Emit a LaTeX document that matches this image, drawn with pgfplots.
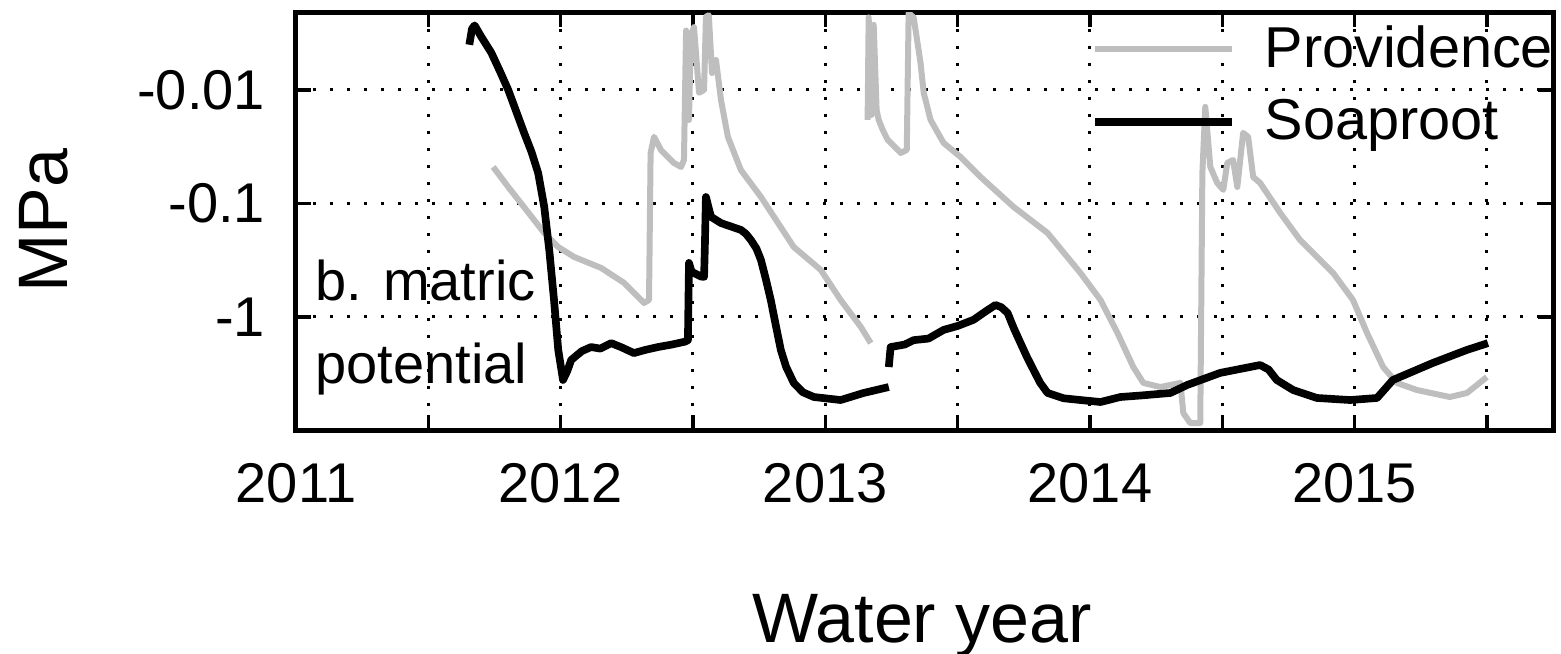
\documentclass[border=0pt]{standalone}
\usepackage{fontspec}
\setmainfont{Liberation Sans}
\usepackage{pgfplots}
\pgfplotsset{compat=1.18}
\definecolor{provgray}{RGB}{190,190,190}
\begin{document}
\begin{tikzpicture}
\path[use as bounding box] (-88.8pt,-66.9pt) rectangle (379.5pt,129pt);
\begin{axis}[
  at={(0pt,0pt)}, anchor=south west,
  scale only axis, width=377.1pt, height=125.4pt,
  xmin=2011, xmax=2015.75,
  ymode=log, y dir=reverse, ymin=0.00206, ymax=9.9,
  xtick={2011,2012,2013,2014,2015},
  xticklabels={2011,2012,2013,2014,2015},
  minor xtick={2011.5,2012.5,2013.5,2014.5,2015.5},
  ytick={0.01,0.1,1},
  yticklabels={{-0.01},{-0.1},{-1}},
  yminorticks=false,
  xmajorgrids, xminorgrids, ymajorgrids,
  major grid style={black, line width=0.9pt, dash pattern=on 0.9pt off 4.2pt},
  minor grid style={black, line width=0.9pt, dash pattern=on 0.9pt off 4.2pt},
  axis line style={line width=1.5pt},
  tick style={black, line width=1pt},
  major tick length=4.5pt, minor tick length=4.5pt,
  tick align=inside,
  /pgf/number format/assume math mode=true,
  ticklabel style={font=\fontsize{16.8}{20}\selectfont},
  xticklabel style={yshift=-6.4pt},
  yticklabel style={xshift=-5.8pt},
  xlabel={Water year}, ylabel={MPa},
  label style={font=\fontsize{21}{25}\selectfont},
  xlabel style={at={(axis description cs:0.498,-0.5072)}, anchor=base},
  ylabel style={at={(axis description cs:-0.1814,0.5)}, anchor=base},
  legend style={at={(axis description cs:0.6324,0.985)}, anchor=north west,
    draw=none, fill=none, font=\fontsize{17.3}{20}\selectfont, row sep=4pt,
    inner sep=0pt},
  legend cell align=left,
  legend image code/.code={\draw[#1] (0pt,0pt) -- (41pt,0pt); \path (47.6pt,0pt);},
]
% Providence, 2012 segment
\addplot[provgray, line width=1.8pt, line join=round] coordinates {
(2011.745,0.0477) (2011.802,0.0716) (2011.870,0.114) (2011.938,0.182)
(2011.991,0.242) (2012.051,0.296) (2012.153,0.370) (2012.240,0.501)
(2012.315,0.753) (2012.334,0.708) (2012.340,0.0359) (2012.353,0.0259)
(2012.379,0.0338) (2012.428,0.0440) (2012.455,0.0477) (2012.466,0.0414)
(2012.474,0.0030) (2012.485,0.0184) (2012.492,0.0033) (2012.504,0.0028)
(2012.523,0.0106) (2012.542,0.0100) (2012.549,0.00227) (2012.560,0.0022)
(2012.572,0.0071) (2012.587,0.00545) (2012.606,0.0123) (2012.632,0.0259)
(2012.681,0.0507) (2012.757,0.0877) (2012.881,0.242) (2012.983,0.385)
(2013.058,0.708) (2013.134,1.22) (2013.172,1.70)
};
\addlegendentry{Providence}
% Soaproot, 2012 segment
\addplot[black, line width=2.3pt, line join=round] coordinates {
(2011.655,0.0040) (2011.665,0.0029) (2011.675,0.0027) (2011.700,0.0034)
(2011.738,0.0047) (2011.770,0.0068) (2011.802,0.0100) (2011.830,0.0150)
(2011.862,0.0239) (2011.890,0.0352) (2011.915,0.0538) (2011.938,0.107)
(2011.957,0.257) (2011.975,0.708) (2011.991,1.95) (2012.009,3.59)
(2012.025,3.0) (2012.040,2.39) (2012.080,2.0) (2012.115,1.84)
(2012.150,1.90) (2012.191,1.70) (2012.230,1.85) (2012.277,2.08)
(2012.320,1.95) (2012.368,1.84) (2012.420,1.75) (2012.470,1.65)
(2012.481,1.60) (2012.485,0.334) (2012.495,0.40) (2012.530,0.44)
(2012.542,0.444) (2012.545,0.242) (2012.549,0.0877) (2012.568,0.131)
(2012.606,0.149) (2012.681,0.171) (2012.700,0.185) (2012.719,0.21)
(2012.740,0.25) (2012.757,0.315) (2012.775,0.46) (2012.794,0.708)
(2012.812,1.15) (2012.832,1.95) (2012.852,2.75) (2012.881,3.81)
(2012.915,4.6) (2012.957,5.07) (2013.058,5.39) (2013.145,4.67)
(2013.240,4.14)
};
\addlegendentry{Soaproot}
% Providence, 2013-2015 segment
\addplot[provgray, line width=1.8pt, line join=round, forget plot] coordinates {
(2013.160,0.0184) (2013.164,0.0023) (2013.175,0.0166) (2013.183,0.00267)
(2013.194,0.0150) (2013.202,0.0184) (2013.217,0.0225) (2013.236,0.0276)
(2013.285,0.0359) (2013.308,0.0338) (2013.315,0.0021) (2013.334,0.0023)
(2013.360,0.00578) (2013.372,0.0106) (2013.398,0.0184) (2013.447,0.0293)
(2013.511,0.0389) (2013.587,0.0585) (2013.711,0.107) (2013.840,0.182)
(2013.964,0.409) (2014.040,0.708) (2014.104,1.38) (2014.164,2.76)
(2014.202,3.81) (2014.266,4.14) (2014.342,3.81) (2014.353,7.02)
(2014.379,8.59) (2014.417,8.59) (2014.425,0.0538) (2014.436,0.0141)
(2014.455,0.0477) (2014.481,0.0659) (2014.504,0.0760) (2014.519,0.0440)
(2014.541,0.0414) (2014.557,0.0716) (2014.579,0.0239) (2014.598,0.0259)
(2014.617,0.0585) (2014.643,0.0659) (2014.719,0.121) (2014.794,0.210)
(2014.919,0.409) (2014.994,0.708) (2015.047,1.38) (2015.108,2.76)
(2015.160,3.81) (2015.236,4.40) (2015.360,5.07) (2015.425,4.67)
(2015.500,3.38)
};
% Soaproot, 2013-2015 segment
\addplot[black, line width=2.3pt, line join=round, forget plot] coordinates {
(2013.240,2.76) (2013.247,1.84) (2013.300,1.75) (2013.334,1.60)
(2013.390,1.55) (2013.447,1.30) (2013.500,1.20) (2013.560,1.06)
(2013.610,0.88) (2013.643,0.784) (2013.665,0.82) (2013.689,0.922)
(2013.712,1.25) (2013.738,1.70) (2013.762,2.25) (2013.787,2.93)
(2013.812,3.8) (2013.840,4.67) (2013.900,5.2) (2013.964,5.39)
(2014.040,5.61) (2014.115,5.07) (2014.200,4.9) (2014.304,4.67)
(2014.368,3.97) (2014.492,3.11) (2014.643,2.65) (2014.675,2.9)
(2014.706,3.59) (2014.768,4.40) (2014.858,5.17) (2014.983,5.39)
(2015.085,5.17) (2015.145,3.59) (2015.296,2.54) (2015.425,1.95)
(2015.504,1.70)
};
\node[anchor=base west, font=\fontsize{16.8}{20}\selectfont, inner sep=0pt]
  at (axis description cs:0.0151,0.311) {b. matric};
\node[anchor=base west, font=\fontsize{16.8}{20}\selectfont, inner sep=0pt]
  at (axis description cs:0.0151,0.1124) {potential};
\end{axis}
\end{tikzpicture}
\end{document}
